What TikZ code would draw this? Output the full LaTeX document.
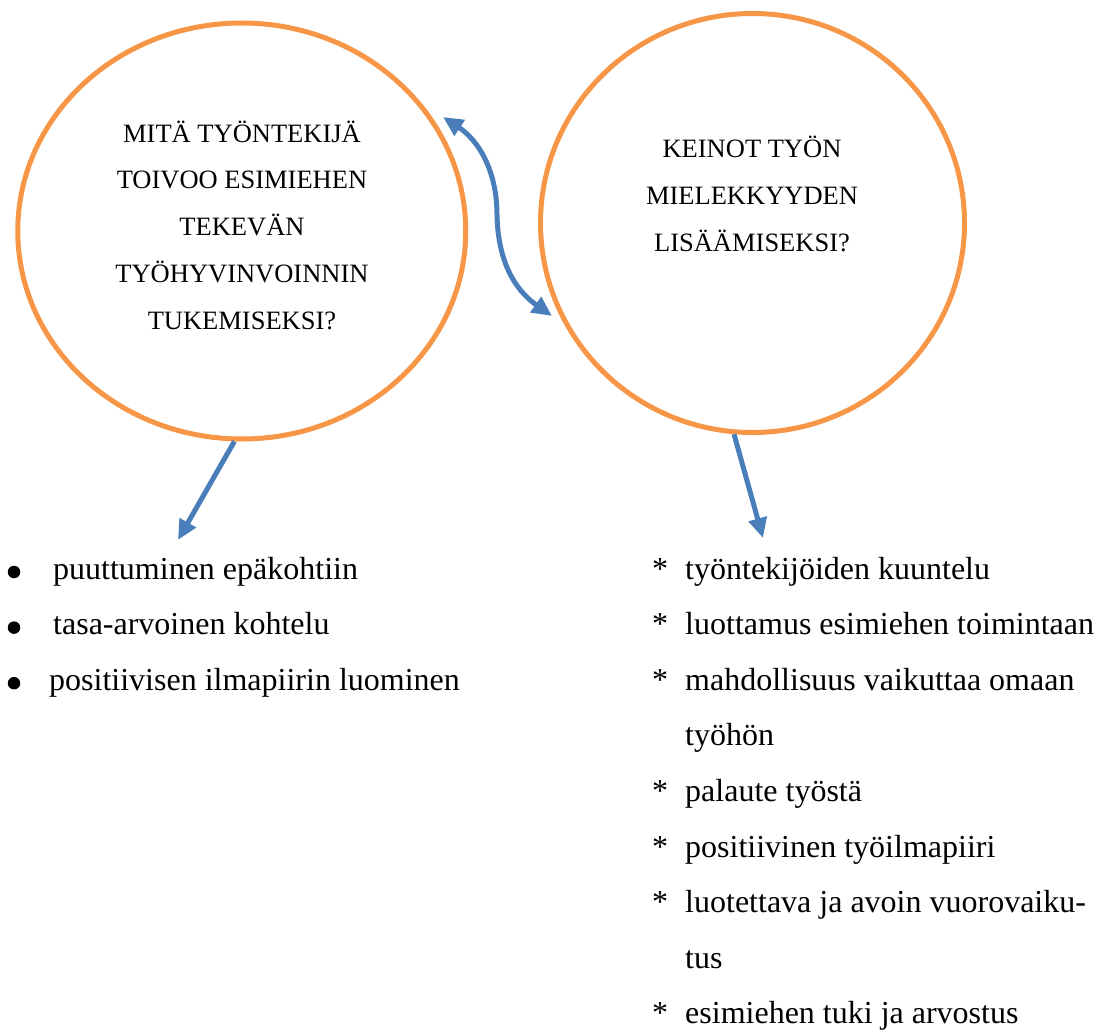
\documentclass[tikz,border=0pt]{standalone}
\usepackage{fontspec}
\setmainfont{Liberation Serif}
\usetikzlibrary{shapes.geometric,arrows.meta}

\definecolor{ringorange}{RGB}{247,150,70}
\definecolor{arrowblue}{RGB}{74,126,187}

\tikzset{
  ring/.style={ellipse,draw=ringorange,line width=5pt,inner sep=0pt},
  quest/.style={align=center,inner sep=0pt,font=\fontsize{26.5}{46.75}\selectfont},
  entry/.style={anchor=base west,inner sep=0pt,font=\fontsize{32}{56}\selectfont},
  itemsign/.style={anchor=base,inner sep=0pt,font=\fontsize{32}{56}\selectfont},
  itemdot/.style={circle,fill=black,inner sep=0pt,minimum size=12.5pt},
  link/.style={draw=arrowblue,line width=5pt,->}
}

\begin{document}
\begin{tikzpicture}[x=1pt,y=-1pt,>={Triangle[length=20pt,width=18pt]}]
   \useasboundingbox (0,0) rectangle (1105,1030);
   % the two circles
   \node[ring,minimum width=448pt,minimum height=416pt] (wish) at (241.75,231) {};
   \node[ring,minimum width=424pt,minimum height=419pt] (means) at (752.5,223) {};
   \node[quest] (wishq) at (242,225) {MITÄ TYÖNTEKIJÄ\\TOIVOO ESIMIEHEN\\TEKEVÄN\\TYÖHYVINVOINNIN\\TUKEMISEKSI?};
   \node[quest] (meansq) at (752,194) {KEINOT TYÖN\\MIELEKKYYDEN\\LISÄÄMISEKSI?};
   % arrows
   \coordinate (wishEnd) at (178,540);
   \coordinate (meansEnd) at (763,538);
   \coordinate (pairA) at (443,117);
   \coordinate (pairB) at (552,316);
   \draw[link] (wish.268) -- (wishEnd);
   \draw[link] (means.265) -- (meansEnd);
   \draw[link,<->] (pairA) .. controls (478,140) and (497,170) .. (497,215)
                           .. controls (498,262) and (515,290) .. (pairB);
   % left list
   \foreach \x/\txt [count=\i] in {53/puuttuminen epäkohtiin,53/tasa-arvoinen kohtelu,49/positiivisen ilmapiirin luominen}{
     \node[itemdot] (dot\i) at (14,{572+55.6*(\i-1)}) {};
     \node[entry] (left\i) at (\x,{579+55.6*(\i-1)}) {\txt};
   }
   % right list
   \foreach \txt [count=\i] in {työntekijöiden kuuntelu,luottamus esimiehen toimintaan,mahdollisuus vaikuttaa omaan,työhön,palaute työstä,positiivinen työilmapiiri,luotettava ja avoin vuorovaiku-,tus,esimiehen tuki ja arvostus}
     \node[entry] (right\i) at (685,{579+55.6*(\i-1)}) {\txt};
   \foreach \i in {1,2,3,5,6,7,9}
     \node[itemsign] (ast\i) at (660,{579+55.6*(\i-1)}) {*};
\end{tikzpicture}
\end{document}
